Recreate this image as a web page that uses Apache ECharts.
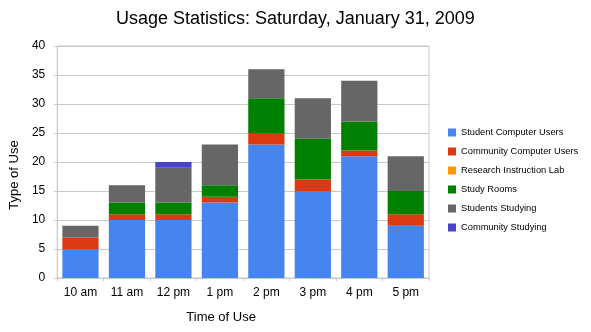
<!DOCTYPE html>
<html><head><meta charset="utf-8">
<script src="https://cdn.jsdelivr.net/npm/echarts@6/dist/echarts.min.js"></script>
<style>html,body{margin:0;padding:0;background:#fff}#c{width:591px;height:332px}</style>
</head><body><div id="c"></div>
<script>
const categories = ['10 am','11 am','12 pm','1 pm','2 pm','3 pm','4 pm','5 pm'];
const studentComputerUsers   = [5, 10, 10, 13, 23, 15, 21, 9];
const communityComputerUsers = [2, 1, 1, 1, 2, 2, 1, 2];
const researchInstructionLab = [0, 0, 0, 0, 0, 0, 0, 0];
const studyRooms             = [0, 2, 2, 2, 6, 7, 5, 4];
const studentsStudying       = [2, 3, 6, 7, 5, 7, 7, 6];
const communityStudying      = [0, 0, 1, 0, 0, 0, 0, 0];
const seriesNames = ['Student Computer Users','Community Computer Users','Research Instruction Lab','Study Rooms','Students Studying','Community Studying'];
const seriesData = [studentComputerUsers, communityComputerUsers, researchInstructionLab, studyRooms, studentsStudying, communityStudying];
const colors = ['#4684EE','#DC3912','#FF9900','#008000','#666666','#4942CC'];
const FONT = '"Liberation Sans", Arial, sans-serif';

const chart = echarts.init(document.getElementById('c'), null, {renderer:'canvas'});
chart.setOption({
  animation: false,
  color: colors,
  textStyle: {fontFamily: FONT},
  title: {
    text: 'Usage Statistics: Saturday, January 31, 2009',
    left: 116, top: 10, padding: 0,
    textStyle: {fontSize: 18, fontWeight: 'normal', color: '#000', fontFamily: FONT}
  },
  legend: {
    orient: 'vertical', left: 448, top: 128, padding: 0,
    itemWidth: 8, itemHeight: 8, itemGap: 10,
    icon: 'rect',
    textStyle: {fontSize: 9.3, color: '#000', lineHeight: 8, fontFamily: FONT},
    data: seriesNames
  },
  grid: {left: 55, right: 162, top: 46, bottom: 54, show: true, borderColor: '#c8c8c8', borderWidth: 1},
  xAxis: {
    type: 'category', data: categories,
    name: 'Time of Use', nameLocation: 'middle', nameGap: 33,
    nameTextStyle: {fontSize: 13, color: '#000', padding: [0, 44, 0, 0]},
    axisLine: {lineStyle: {color: '#c8c8c8'}},
    axisTick: {show: true, length: 3, lineStyle: {color: '#c8c8c8'}},
    axisLabel: {fontSize: 12, color: '#000', margin: 9}
  },
  yAxis: {
    type: 'value', min: 0, max: 40, interval: 5,
    name: 'Type of Use', nameLocation: 'middle', nameGap: 24,
    nameTextStyle: {fontSize: 13, color: '#000', padding: [0, 26, 0, 0]},
    axisLine: {show: true, lineStyle: {color: '#c8c8c8'}},
    axisTick: {show: true, length: 3, lineStyle: {color: '#c8c8c8'}},
    axisLabel: {fontSize: 12, color: '#000', margin: 12},
    splitLine: {lineStyle: {color: '#c8c8c8'}}
  },
  series: seriesNames.map((n, i) => ({
    name: n, type: 'bar', stack: 'total', data: seriesData[i],
    barCategoryGap: '22%'
  }))
});
</script></body></html>
